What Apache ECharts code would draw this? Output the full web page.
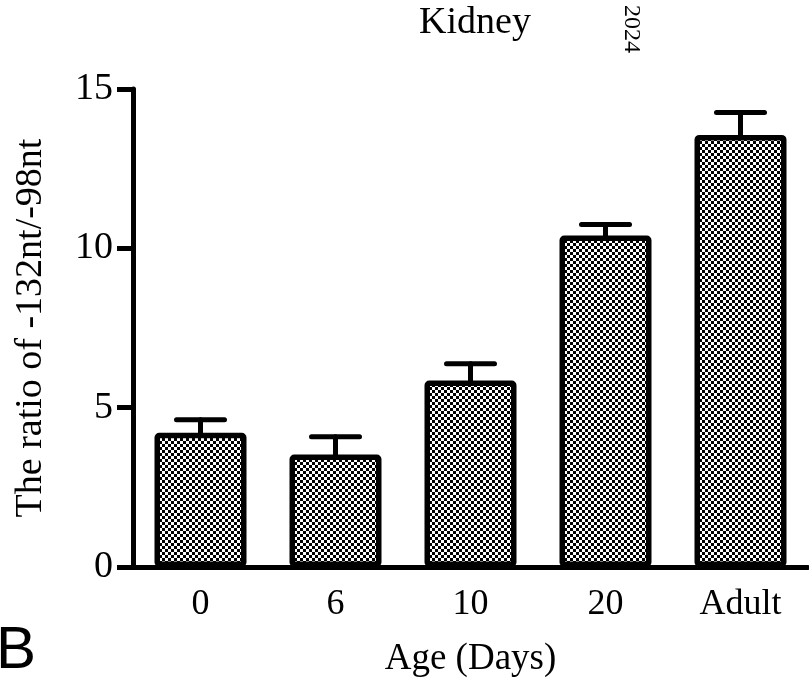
<!DOCTYPE html>
<html lang="en">
<head>
    <meta charset="UTF-8">
    <title>Kidney</title>
    <script src="https://cdn.jsdelivr.net/npm/echarts@6/dist/echarts.min.js"></script>
    <style>
        html, body {margin: 0; padding: 0; background: #fff;}
    </style>
</head>
<body>
<div id="main" style="width: 809px;height: 686px;"></div>

<script type="text/javascript">
    // data
    var ages = ['0', '6', '10', '20', 'Adult'];
    var ratio = [4.21, 3.53, 5.85, 10.40, 13.56];
    var sem = [0.41, 0.56, 0.53, 0.35, 0.70];
    var yTicks = [0, 5, 10, 15];

    var serif = '"Liberation Serif", "Times New Roman", serif';

    // checkerboard fill like the print
    var pat = document.createElement('canvas');
    pat.width = 6;
    pat.height = 6;
    var ctx = pat.getContext('2d');
    ctx.fillStyle = '#fff';
    ctx.fillRect(0, 0, 6, 6);
    ctx.fillStyle = '#000';
    ctx.fillRect(0, 0, 3, 3);
    ctx.fillRect(3, 3, 3, 3);

    var myChart = echarts.init(document.getElementById('main'));

    var option = {
        backgroundColor: '#fff',
        animation: false,
        title: {
            text: 'Kidney',
            left: 470,
            textAlign: 'center',
            top: -1,
            textStyle: {fontFamily: serif, fontSize: 38, fontWeight: 'normal', color: '#000'}
        },
        graphic: [
            { //年份（竖排）
                type: 'text',
                x: 643,
                y: 5,
                rotation: -Math.PI / 2,
                style: {text: '2024', font: '24px ' + serif, fill: '#000'}
            },
            { //面板字母
                type: 'text',
                left: -4,
                top: 621,
                style: {text: 'B', font: '60px "Liberation Sans", Arial, sans-serif', fill: '#000'}
            }
        ],
        grid: {left: 133, right: 1, top: 89, bottom: 119, containLabel: false},
        xAxis: {
            type: 'category',
            data: ages,
            name: 'Age (Days)',
            nameLocation: 'middle',
            nameGap: 74,
            nameTextStyle: {fontFamily: serif, fontSize: 37, color: '#000'},
            axisLine: {lineStyle: {color: '#000', width: 5}},
            axisTick: {show: false},
            axisLabel: {fontFamily: serif, fontSize: 36, color: '#000', margin: 20}
        },
        yAxis: {
            type: 'value',
            min: 0,
            max: 15,
            interval: 5,
            name: 'The ratio of -132nt/-98nt',
            nameLocation: 'middle',
            nameGap: 83,
            nameTextStyle: {fontFamily: serif, fontSize: 38, color: '#000'},
            splitLine: {show: false},
            axisLine: {show: true, lineStyle: {color: '#000', width: 5, cap: 'round'}},
            axisTick: {show: true, length: 16, lineStyle: {color: '#000', width: 5}},
            axisLabel: {
                fontFamily: serif, fontSize: 38, color: '#000', margin: 20,
                formatter: function (v) {
                    return yTicks.indexOf(v) >= 0 ? String(v) : '';
                }
            }
        },
        series: [
            { //柱状图
                type: 'bar',
                data: ratio,
                barWidth: 92,
                itemStyle: {
                    color: {image: pat, repeat: 'repeat'},
                    borderColor: '#000',
                    borderWidth: 5.5,
                    borderRadius: 2
                },
                z: 2
            },
            { //误差线
                type: 'custom',
                data: ratio.map(function (v, i) { return [i, v, v + sem[i]]; }),
                renderItem: function (params, api) {
                    var lo = api.coord([api.value(0), api.value(1)]);
                    var hi = api.coord([api.value(0), api.value(2)]);
                    var st = {stroke: '#000', lineWidth: 5, lineCap: 'round'};
                    return {
                        type: 'group',
                        children: [
                            {type: 'line', shape: {x1: hi[0], y1: lo[1], x2: hi[0], y2: hi[1]}, style: st},
                            {type: 'line', shape: {x1: hi[0] - 24, y1: hi[1], x2: hi[0] + 24, y2: hi[1]}, style: st}
                        ]
                    };
                },
                z: 3
            }
        ]
    };

    myChart.setOption(option);
</script>
</body>
</html>
